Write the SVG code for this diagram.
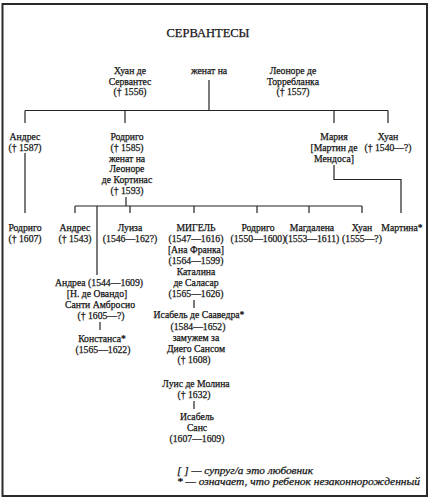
<svg xmlns="http://www.w3.org/2000/svg" width="432" height="500" viewBox="0 0 432 500">
<style>
text{font-family:"Liberation Serif","Times New Roman",serif;font-size:9.7px;fill:#151515;stroke:#151515;stroke-width:0.25;text-anchor:middle}
.title{font-size:12.5px}
.leg{font-style:italic;text-anchor:start;font-size:10.5px}
.c line, .c polyline{stroke:#222;stroke-width:1.2;fill:none}
</style>
<rect x="2.5" y="4" width="424.5" height="492" fill="#fff" stroke="#2a2a2a" stroke-width="2"/>
<text class="title" x="208" y="36.5">СЕРВАНТЕСЫ</text>

<g id="juan-sr"><text x="130" y="74">Хуан де</text><text x="130" y="84.5">Сервантес</text><text x="130" y="95">(† 1556)</text></g>
<g id="married"><text x="209" y="74">женат на</text></g>
<g id="leonore"><text x="293" y="74">Леоноре де</text><text x="293" y="84.5">Торребланка</text><text x="293" y="95">(† 1557)</text></g>

<g id="andres1"><text x="25" y="139.5">Андрес</text><text x="25" y="150.5">(† 1587)</text></g>
<g id="rodrigo1"><text x="127" y="139.5">Родриго</text><text x="127" y="150.5">(† 1585)</text><text x="127" y="161.5">женат на</text><text x="127" y="172">Леоноре</text><text x="127" y="183">де Кортинас</text><text x="127" y="194">(† 1593)</text></g>
<g id="maria"><text x="334" y="139.5">Мария</text><text x="334" y="150.5">[Мартин де</text><text x="334" y="161.5">Мендоса]</text></g>
<g id="juan1"><text x="388" y="139.5">Хуан</text><text x="388" y="150.5">(† 1540—?)</text></g>

<g id="rodrigo2"><text x="25" y="230.5">Родриго</text><text x="25" y="241.5">(† 1607)</text></g>
<g id="andres2"><text x="75" y="230.5">Андрес</text><text x="75" y="241.5">(† 1543)</text></g>
<g id="luisa"><text x="130" y="230.5">Луиза</text><text x="130" y="241.5">(1546—162?)</text></g>
<g id="miguel"><text x="196" y="230.5">МИГЕЛЬ</text><text x="196" y="241.5">(1547—1616)</text><text x="196" y="252.5">[Ана Франка]</text><text x="196" y="263.5">(1564—1599)</text><text x="196" y="274.5">Каталина</text><text x="196" y="285.5">де Саласар</text><text x="196" y="296.5">(1565—1626)</text></g>
<g id="rodrigo3"><text x="258" y="230.5">Родриго</text><text x="258" y="241.5">(1550—1600)</text></g>
<g id="magdalena"><text x="312" y="230.5">Магдалена</text><text x="312" y="241.5">(1553—1611)</text></g>
<g id="juan2"><text x="362" y="230.5">Хуан</text><text x="362" y="241.5">(1555—?)</text></g>
<g id="martina"><text x="402" y="230.5">Мартина*</text></g>

<g id="andrea"><text x="99" y="285.5">Андреа (1544—1609)</text><text x="97" y="296.5">[Н. де Овандо]</text><text x="100" y="307.5">Санти Амбросио</text><text x="101" y="318.5">(† 1605—?)</text></g>
<g id="constanza"><text x="102" y="341.5">Констанса*</text><text x="103" y="353">(1565—1622)</text></g>

<g id="isabel1"><text x="199" y="318">Исабель де Сааведра*</text><text x="198" y="329.5">(1584—1652)</text><text x="196" y="341">замужем за</text><text x="196" y="352">Диего Сансом</text><text x="194" y="363">(† 1608)</text></g>
<g id="luis"><text x="196" y="386.5">Луис де Молина</text><text x="194" y="397.5">(† 1632)</text></g>
<g id="isabel2"><text x="197" y="419.5">Исабель</text><text x="197" y="430.5">Санс</text><text x="197" y="441.5">(1607—1609)</text></g>

<g class="c" id="connectors">
<line x1="209" y1="80" x2="209" y2="110.5"/>
<line x1="25" y1="110.5" x2="388" y2="110.5"/>
<line x1="25" y1="110.5" x2="25" y2="123"/>
<line x1="125" y1="110.5" x2="125" y2="123"/>
<line x1="334" y1="110.5" x2="334" y2="123"/>
<line x1="388" y1="110.5" x2="388" y2="123"/>
<line x1="25" y1="153" x2="25" y2="213"/>
<polyline points="334,165 334,179.5 401,179.5 401,213"/>
<line x1="126" y1="197" x2="126" y2="206"/>
<line x1="75" y1="206" x2="362" y2="206"/>
<line x1="75" y1="206" x2="75" y2="213"/>
<line x1="130" y1="206" x2="130" y2="213"/>
<line x1="194" y1="206" x2="194" y2="213"/>
<line x1="257" y1="206" x2="257" y2="213"/>
<line x1="309" y1="206" x2="309" y2="213"/>
<line x1="362" y1="206" x2="362" y2="213"/>
<line x1="97" y1="206" x2="97" y2="275"/>
<line x1="100" y1="322" x2="100" y2="330"/>
<line x1="194" y1="300" x2="194" y2="308"/>
<line x1="194" y1="401" x2="194" y2="409"/>
</g>

<text class="leg" x="177" y="474" textLength="136" lengthAdjust="spacingAndGlyphs">[ ] — супруг/а это любовник</text>
<text class="leg" x="177" y="485" textLength="243" lengthAdjust="spacingAndGlyphs">* — означает, что ребенок незаконнорожденный</text>
</svg>
